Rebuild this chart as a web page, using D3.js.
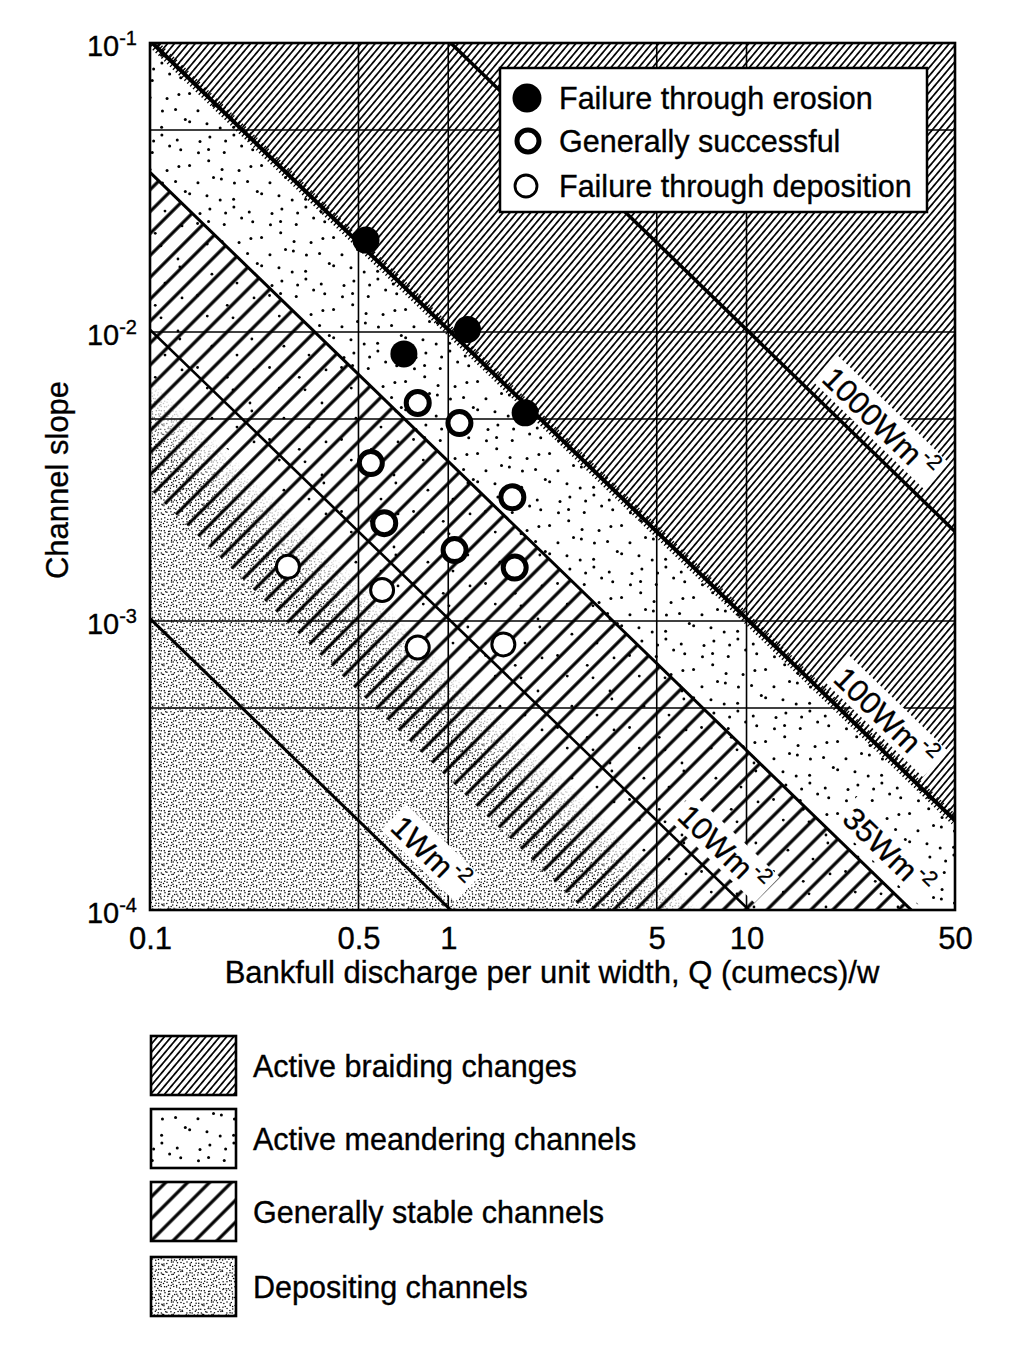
<!DOCTYPE html>
<html><head><meta charset="utf-8">
<script src="https://cdn.jsdelivr.net/npm/d3@7"></script>
<style>
body{margin:0;background:#fff;}
svg{display:block;font-family:"Liberation Sans",Arial,Helvetica,sans-serif;}
svg text{stroke:#000;stroke-width:0.35px;}
</style></head><body>
<svg id="chart" width="1024" height="1355"></svg>
<script>
// ---------- data ----------
const xTicks = [0.1, 0.5, 1, 5, 10, 50];
const xTickLabels = ["0.1", "0.5", "1", "5", "10", "50"];
const yTicks = [1e-1, 1e-2, 1e-3, 1e-4];
const yTickExponents = ["-1", "-2", "-3", "-4"];
const xGridValues = [0.5, 1, 5, 10];
const yGridValues = [5e-2, 1e-2, 5e-3, 1e-3, 5e-4];
const powerValues = [1, 10, 35, 100, 1000];            // W m^-2
const powerLabels = ["1Wm", "10Wm", "35Wm", "100Wm", "1000Wm"];
const powerLabelQ = [0.755, 7.26, 25.9, 25.4, 24.4];   // where label sits along the line
const erosionQ = [0.53, 1.16, 0.71, 1.81];
const erosionS = [0.0208, 0.0102, 0.0084, 0.00525];
const successQ = [0.79, 1.09, 0.55, 0.61, 1.64, 1.05, 1.67];
const successS = [0.00568, 0.00484, 0.00352, 0.00218, 0.00268, 0.00176, 0.00153];
const depositQ = [0.29, 0.60, 0.79, 1.53];
const depositS = [0.00154, 0.00128, 0.00081, 0.00083];
const pointLegend = ["Failure through erosion", "Generally successful", "Failure through deposition"];
const zoneNames = ["Active braiding changes", "Active meandering channels", "Generally stable channels", "Depositing channels"];
const xTitle = "Bankfull discharge per unit width, Q (cumecs)/w";
const yTitle = "Channel slope";

// ---------- setup ----------
const W = 1024, H = 1355;
const M = {left: 150, right: 955, top: 43, bottom: 910};
const x = d3.scaleLog().domain([0.1, 50]).range([M.left, M.right]);
const y = d3.scaleLog().domain([1e-4, 1e-1]).range([M.bottom, M.top]);
const RHO_G = 9810;
const slopeAt = (w, q) => w / (RHO_G * q);

const svg = d3.select("#chart");
svg.append("rect").attr("width", W).attr("height", H).attr("fill", "#fff");
const defs = svg.append("defs");
defs.append("clipPath").attr("id", "plotClip").append("rect")
  .attr("x", M.left).attr("y", M.top).attr("width", M.right - M.left).attr("height", M.bottom - M.top);

function hash(i) { const s = Math.sin(i * 12.9898 + 78.233) * 43758.5453; return s - Math.floor(s); }

function linePattern(id, spacing, angle, width) {
  const p = defs.append("pattern").attr("id", id).attr("patternUnits", "userSpaceOnUse")
    .attr("width", spacing).attr("height", spacing).attr("patternTransform", `rotate(${angle})`);
  p.append("line").attr("x1", spacing / 2).attr("x2", spacing / 2).attr("y1", -1).attr("y2", spacing + 1)
    .attr("stroke", "#000").attr("stroke-width", width);
}
function dotPattern(id, size, n, r, seed) {
  const p = defs.append("pattern").attr("id", id).attr("patternUnits", "userSpaceOnUse")
    .attr("width", size).attr("height", size);
  const cell = size / n, pts = [];
  for (let i = 0; i < n; i++) for (let j = 0; j < n; j++) {
    const k = seed + (i * n + j) * 2;
    pts.push([(i + 0.1 + 0.8 * hash(k)) * cell, (j + 0.1 + 0.8 * hash(k + 1)) * cell]);
  }
  p.selectAll("circle").data(pts).join("circle")
    .attr("cx", d => d[0]).attr("cy", d => d[1]).attr("r", r).attr("fill", "#000");
}
linePattern("braid", 5.3, 40, 1.7);
linePattern("stable", 15.5, 45, 3.2);
dotPattern("sparse", 72, 5, 1.5, 11);
dotPattern("sparse2", 72, 3, 1.4, 517);
dotPattern("dense", 40, 13, 0.75, 901);

function bandPath(wLo, wHi) {
  const q0 = 0.1, q1 = 50;
  return "M" + [[q0, slopeAt(wLo, q0)], [q1, slopeAt(wLo, q1)], [q1, slopeAt(wHi, q1)], [q0, slopeAt(wHi, q0)]]
    .map(d => [x(d[0]), y(d[1])].join(",")).join("L") + "Z";
}

// angle of the iso-power lines in pixel space
const ang = Math.atan2(y(slopeAt(1, 10)) - y(slopeAt(1, 1)), x(10) - x(1));
const sinA = Math.sin(ang), cosA = Math.cos(ang);

// fade mask for the depositing stipple
const P1 = [x(1), y(slopeAt(7, 1))];
const perp = (y(slopeAt(4, 1)) - y(slopeAt(7, 1))) * cosA;
const P2 = [P1[0] - sinA * perp, P1[1] + cosA * perp];
const grad = defs.append("linearGradient").attr("id", "fadeGrad").attr("gradientUnits", "userSpaceOnUse")
  .attr("x1", P1[0]).attr("y1", P1[1]).attr("x2", P2[0]).attr("y2", P2[1]);
grad.append("stop").attr("offset", 0).attr("stop-color", "#000");
grad.append("stop").attr("offset", 1).attr("stop-color", "#fff");
defs.append("mask").attr("id", "fadeMask").attr("maskUnits", "userSpaceOnUse")
  .attr("x", 0).attr("y", 0).attr("width", W).attr("height", H)
  .append("rect").attr("width", W).attr("height", H).attr("fill", "url(#fadeGrad)");

// ---------- zone fills ----------
const fills = svg.append("g").attr("clip-path", "url(#plotClip)");
fills.append("path").attr("d", bandPath(100, 1e7)).attr("fill", "url(#braid)");
fills.append("path").attr("d", bandPath(35, 100)).attr("fill", "url(#sparse)");
fills.append("path").attr("d", bandPath(7, 35)).attr("fill", "url(#sparse2)");
fills.append("path").attr("d", bandPath(2.8, 35)).attr("fill", "url(#stable)");
fills.append("rect").attr("x", M.left).attr("y", M.top).attr("width", M.right - M.left).attr("height", M.bottom - M.top)
  .attr("fill", "url(#dense)").attr("mask", "url(#fadeMask)");

// ---------- grid ----------
const grid = svg.append("g").attr("stroke", "#000").attr("stroke-width", 1.6);
grid.selectAll(".vg").data(xGridValues).join("line").attr("class", "vg")
  .attr("x1", d => x(d)).attr("x2", d => x(d)).attr("y1", M.top).attr("y2", M.bottom);
grid.selectAll(".hg").data(yGridValues).join("line").attr("class", "hg")
  .attr("x1", M.left).attr("x2", M.right).attr("y1", d => y(d)).attr("y2", d => y(d));

// ---------- iso-power lines ----------
const knockG = svg.append("g");
const linesG = svg.append("g").attr("clip-path", "url(#plotClip)");
const lineWidth = {1: 3, 10: 2.6, 35: 3, 100: 4, 1000: 3.5};
const linePath = w => `M${x(0.1)},${y(slopeAt(w, 0.1))}L${x(50)},${y(slopeAt(w, 50))}`;
linesG.selectAll(".pl").data(powerValues).join("path").attr("class", "pl")
  .attr("d", d => linePath(d)).attr("fill", "none").attr("stroke", "#000")
  .attr("stroke-width", d => lineWidth[d]);
linesG.append("path").attr("d", linePath(100)).attr("fill", "none").attr("stroke", "#000")
  .attr("stroke-width", 10).attr("stroke-dasharray", "1.3 2.7");

const labelsG = svg.append("g");
const deg = ang * 180 / Math.PI;
powerValues.forEach((w, i) => {
  const q = powerLabelQ[i];
  const px = x(q), py = y(slopeAt(w, q));
  const off = 26;
  const cx = px + sinA * off, cy = py - cosA * off;
  const g = labelsG.append("g").attr("transform", `translate(${cx},${cy}) rotate(${deg})`);
  const t = g.append("text").attr("text-anchor", "middle").attr("dominant-baseline", "central")
    .attr("font-size", 31).attr("fill", "#000");
  t.append("tspan").text(powerLabels[i]);
  t.append("tspan").attr("font-size", 21).attr("dx", 2).attr("dy", -11).text("-2");
  const len = t.node().getComputedTextLength();
  knockG.append("rect").attr("transform", `translate(${cx},${cy}) rotate(${deg})`)
    .attr("x", -len / 2 - 6).attr("y", -19).attr("width", len + 12).attr("height", 36).attr("fill", "#fff");
});

// ---------- point legend box ----------
const lg = svg.append("g");
lg.append("rect").attr("x", 500).attr("y", 68).attr("width", 427).attr("height", 144)
  .attr("fill", "#fff").attr("stroke", "#000").attr("stroke-width", 2.5);
const lgRows = [98, 141, 186];
lg.append("circle").attr("cx", 527).attr("cy", lgRows[0]).attr("r", 14.5).attr("fill", "#000");
lg.append("circle").attr("cx", 528).attr("cy", lgRows[1]).attr("r", 11).attr("fill", "#fff").attr("stroke", "#000").attr("stroke-width", 5);
lg.append("circle").attr("cx", 526).attr("cy", lgRows[2]).attr("r", 11).attr("fill", "#fff").attr("stroke", "#000").attr("stroke-width", 2.8);
lg.selectAll("text").data(pointLegend).join("text")
  .attr("x", 559).attr("y", (d, i) => lgRows[i] + 11).attr("font-size", 30.5).attr("fill", "#000").text(d => d);

// ---------- data points ----------
const pts = svg.append("g");
pts.selectAll(".ero").data(erosionQ.map((q, i) => [q, erosionS[i]])).join("circle").attr("class", "ero")
  .attr("cx", d => x(d[0])).attr("cy", d => y(d[1])).attr("r", 13.5).attr("fill", "#000");
pts.selectAll(".suc").data(successQ.map((q, i) => [q, successS[i]])).join("circle").attr("class", "suc")
  .attr("cx", d => x(d[0])).attr("cy", d => y(d[1])).attr("r", 11.5).attr("fill", "#fff")
  .attr("stroke", "#000").attr("stroke-width", 5);
pts.selectAll(".dep").data(depositQ.map((q, i) => [q, depositS[i]])).join("circle").attr("class", "dep")
  .attr("cx", d => x(d[0])).attr("cy", d => y(d[1])).attr("r", 11.5).attr("fill", "#fff")
  .attr("stroke", "#000").attr("stroke-width", 3);

// ---------- frame & axes ----------
svg.append("rect").attr("x", M.left).attr("y", M.top).attr("width", M.right - M.left).attr("height", M.bottom - M.top)
  .attr("fill", "none").attr("stroke", "#000").attr("stroke-width", 2.6);

const xAxis = svg.append("g").attr("transform", `translate(0,${M.bottom})`)
  .call(d3.axisBottom(x).tickValues(xTicks).tickSize(0).tickPadding(17)
    .tickFormat((d, i) => xTickLabels[i]));
xAxis.select(".domain").remove();
xAxis.selectAll("text").attr("font-size", 31).attr("font-family", null).attr("fill", "#000");

const yAxis = svg.append("g").attr("transform", `translate(${M.left},0)`)
  .call(d3.axisLeft(y).tickValues(yTicks).tickSize(0).tickPadding(13).tickFormat(() => ""));
yAxis.select(".domain").remove();
yAxis.selectAll("text").each(function (d, i) {
  const t = d3.select(this).attr("font-size", 29).attr("font-family", null).attr("fill", "#000").attr("dy", "0.43em");
  t.append("tspan").text("10");
  t.append("tspan").attr("font-size", 20).attr("dy", -11).text(yTickExponents[i]);
});

svg.append("text").attr("x", 552).attr("y", 983).attr("text-anchor", "middle").attr("font-size", 31)
  .attr("fill", "#000").text(xTitle);
svg.append("text").attr("transform", "translate(68,480) rotate(-90)").attr("text-anchor", "middle")
  .attr("font-size", 31).attr("fill", "#000").text(yTitle);

// ---------- zone legend ----------
const zoneFill = ["url(#braid)", "url(#sparse)", "url(#stable)", "url(#dense)"];
const swatchY = [1036, 1109, 1182, 1257];
const zl = svg.append("g");
zl.selectAll("rect").data(zoneNames).join("rect")
  .attr("x", 151).attr("y", (d, i) => swatchY[i]).attr("width", 85).attr("height", 59)
  .attr("fill", (d, i) => zoneFill[i]).attr("stroke", "#000").attr("stroke-width", 2.6);
zl.selectAll("text").data(zoneNames).join("text")
  .attr("x", 253).attr("y", (d, i) => swatchY[i] + 41).attr("font-size", 30.5).attr("fill", "#000").text(d => d);
</script>
</body></html>
